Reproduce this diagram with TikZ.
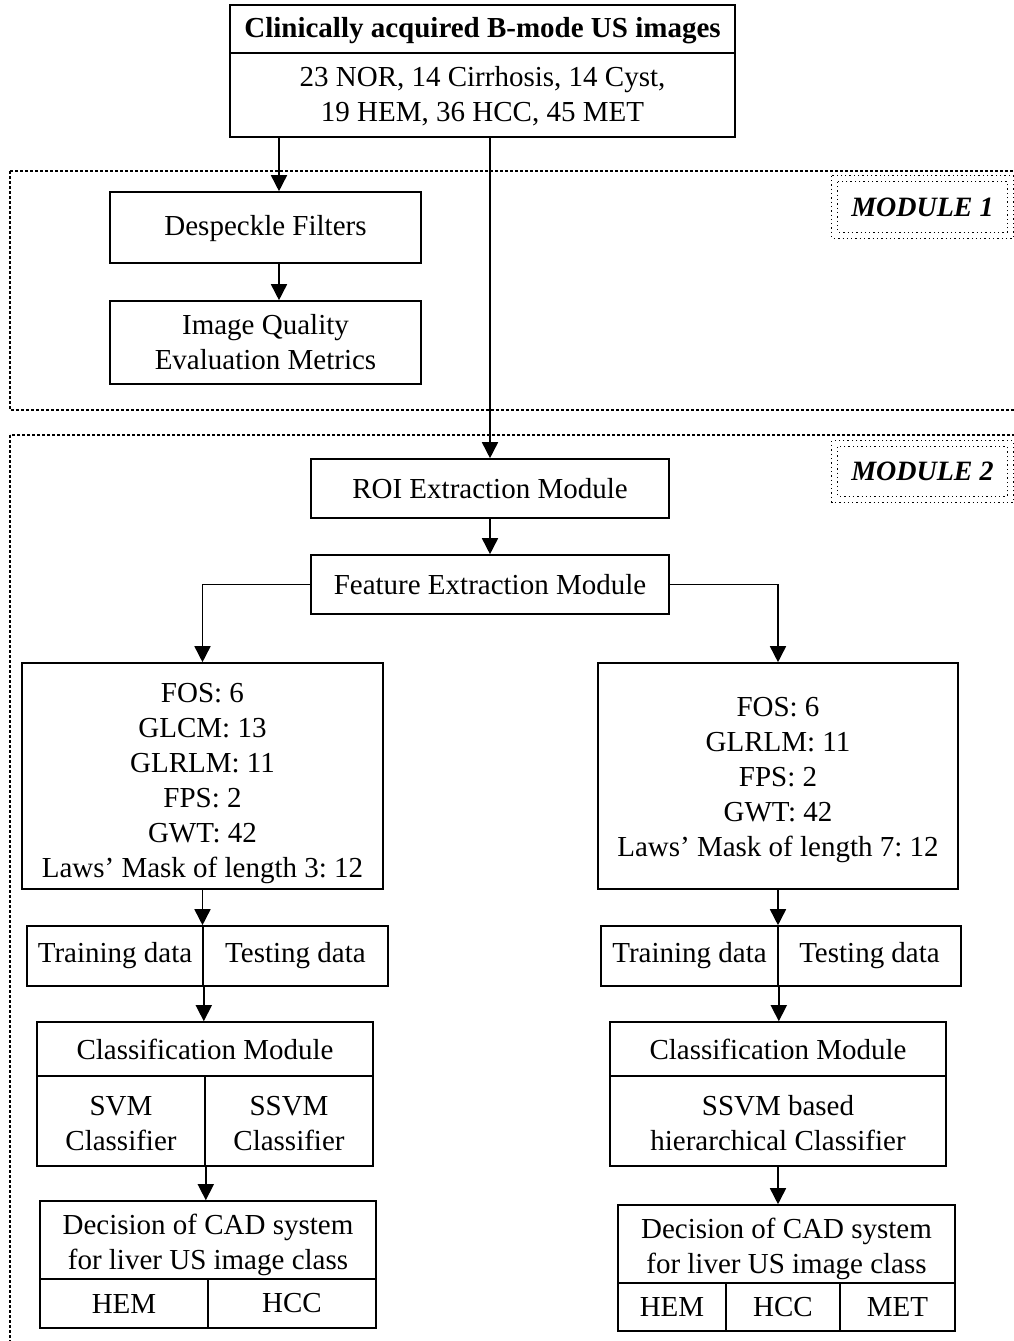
\documentclass[tikz,border=0pt]{standalone}
\usepackage{fontspec}
\setmainfont{Liberation Serif}
\frenchspacing
\usetikzlibrary{arrows.meta}
\begin{document}
\begin{tikzpicture}[x=1pt,y=-1pt,
  every node/.style={font=\fontsize{29}{35}\selectfont},
  box/.style={draw,line width=1.6pt,inner sep=0pt,align=center},
  sz/.style 2 args={minimum width=#1pt,minimum height=#2pt},
  title/.style={font=\fontsize{29}{35}\selectfont\bfseries},
  arr/.style={line width=1.6pt,-{Triangle[length=16pt,width=16pt]}},
  modframe/.style={line width=1.6pt,dash pattern=on 3pt off 2pt},
  tagframe/.style={line width=1.3pt,dash pattern=on 1.3pt off 3pt},
  tag/.style={font=\fontsize{28}{34}\selectfont\bfseries\itshape,
    minimum width=169pt,minimum height=50pt,inner sep=0pt}]

\fill[white] (0,0) rectangle (1013,1341);
\useasboundingbox (0,0) rectangle (1013,1341);

% module frames
\draw[modframe] (10,171) rectangle (1030,410);
\draw[modframe] (10,435) rectangle (1030,1360);

\node[tag] (tag1) at (922.5,207) {MODULE 1};
\draw[tagframe] (tag1.north west) rectangle (tag1.south east);
\draw[tagframe] ([shift={(-6pt,6pt)}]tag1.north west) rectangle ([shift={(6pt,-6pt)}]tag1.south east);

\node[tag,minimum height=49pt] (tag2) at (922.5,471.5) {MODULE 2};
\draw[tagframe] (tag2.north west) rectangle (tag2.south east);
\draw[tagframe] ([shift={(-6pt,6pt)}]tag2.north west) rectangle ([shift={(6pt,-6pt)}]tag2.south east);

% input images
\node[box,sz={505}{48},title] (srchead) at (482.5,29) {\rule{0pt}{23pt}Clinically acquired B-mode US images};
\node[box,sz={505}{84}] (srcbody) at (482.5,95) {\rule{0pt}{23pt}23 NOR, 14 Cirrhosis, 14 Cyst,\\19 HEM, 36 HCC, 45 MET};

% module 1
\node[box,sz={311}{71}] (desp) at (265.5,227.5) {\rule{0pt}{22pt}Despeckle Filters};
\node[box,sz={311}{83}] (iqm) at (265.5,342.5) {Image Quality\\Evaluation Metrics};

% module 2
\node[box,sz={358}{59}] (roi) at (490,488.5) {ROI Extraction Module};
\node[box,sz={358}{59}] (feat) at (490,584.5) {Feature Extraction Module};

\node[box,sz={361}{226}] (featL) at (202.5,776) {\rule{0pt}{35pt}FOS: 6\\GLCM: 13\\GLRLM: 11\\FPS: 2\\GWT: 42\\Laws' Mask of length 3: 12};
\node[box,sz={360}{226}] (featR) at (778,776) {\rule{0pt}{27pt}FOS: 6\\GLRLM: 11\\FPS: 2\\GWT: 42\\Laws' Mask of length 7: 12};

\node[box,sz={176}{60}] (trainL) at (115,956) {Training data};
\node[box,sz={185}{60}] (testL) at (295.5,956) {Testing data};
\node[box,sz={177}{60}] (trainR) at (689.5,956) {Training data};
\node[box,sz={183}{60}] (testR) at (869.5,956) {Testing data};

\node[box,sz={336}{54}] (clsLh) at (205,1049) {Classification Module};
\node[box,sz={168}{90}] (svmL) at (121,1121) {\rule{0pt}{25pt}SVM\\Classifier};
\node[box,sz={168}{90}] (ssvmL) at (289,1121) {\rule{0pt}{25pt}SSVM\\Classifier};

\node[box,sz={336}{54}] (clsRh) at (778,1049) {Classification Module};
\node[box,sz={336}{90}] (clsRb) at (778,1121) {\rule{0pt}{24pt}SSVM based\\hierarchical Classifier};

\node[box,sz={336}{78}] (decLh) at (208,1240) {\rule{0pt}{30pt}Decision of CAD system\\for liver US image class};
\node[box,sz={168}{49}] (hemL) at (124,1303.5) {HEM};
\node[box,sz={168}{49}] (hccL) at (292,1303.5) {HCC};

\node[box,sz={337}{78}] (decRh) at (786.5,1244) {\rule{0pt}{30pt}Decision of CAD system\\for liver US image class};
\node[box,sz={108}{48}] (hemR) at (672,1307) {HEM};
\node[box,sz={114}{48}] (hccR) at (783,1307) {HCC};
\node[box,sz={115}{48}] (metR) at (897.5,1307) {MET};

% connectors
\draw[arr] ([xshift=13.5pt]desp.north |- srcbody.south) -- ([xshift=13.5pt]desp.north);
\draw[arr] ([xshift=13.5pt]desp.south) -- ([xshift=13.5pt]iqm.north);
\draw[arr] (roi.north |- srcbody.south) -- (roi.north);
\draw[arr] (roi.south) -- (feat.north);
\draw[arr] (feat.west) -| (featL.north);
\draw[arr] (feat.east) -| (featR.north);

\draw[arr] (featL.south) -- (featL.south |- trainL.north);
\draw[arr] (trainL.south east) -- (trainL.south east |- clsLh.north);
\draw[arr] (svmL.south east) -- (svmL.south east |- decLh.north);

\draw[arr] (featR.south) -- (featR.south |- trainR.north);
\draw[arr] (trainR.south east) -- (trainR.south east |- clsRh.north);
\draw[arr] (clsRb.south) -- (clsRb.south |- decRh.north);
\end{tikzpicture}
\end{document}
